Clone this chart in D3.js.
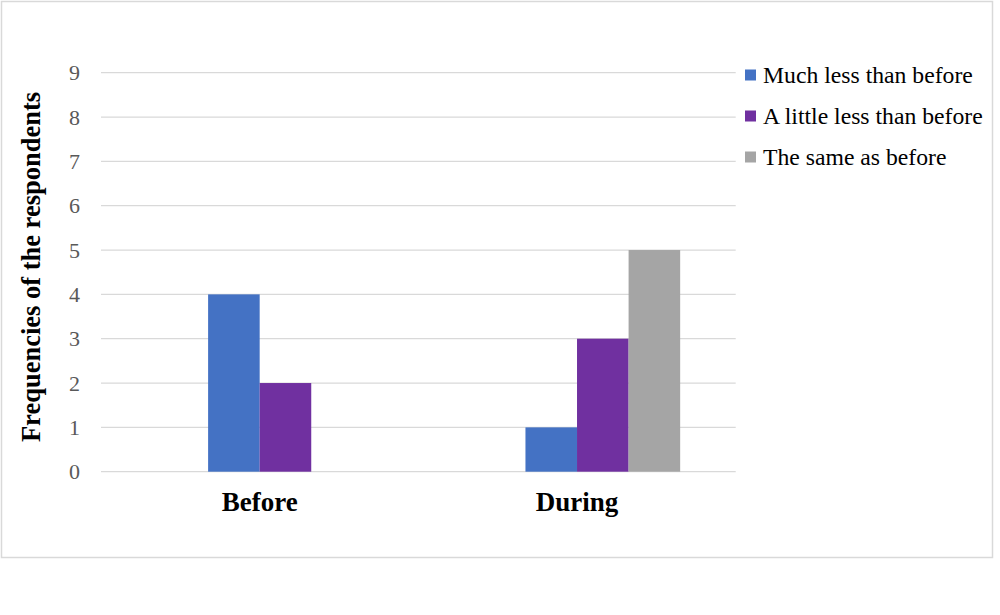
<!DOCTYPE html>
<html>
<head>
<meta charset="utf-8">
<script src="https://cdn.jsdelivr.net/npm/d3@7"></script>
<style>
  body { margin: 0; background: #fff; }
  text { font-family: "Liberation Serif", "Times New Roman", serif; }
</style>
</head>
<body>
<div id="viz"></div>
<script>
var categories = ["Before", "During"];
var seriesNames = ["Much less than before", "A little less than before", "The same as before"];
var muchLess = [4, 1];
var littleLess = [2, 3];
var same = [0, 5];
var yTicks = [0, 1, 2, 3, 4, 5, 6, 7, 8, 9];
var colors = ["#4472c4", "#7030a0", "#a5a5a5"];

var width = 1000,
    height = 615;

var svg = d3.select("#viz").append("svg")
    .attr("width", width)
    .attr("height", height);

// outer frame
svg.append("rect")
    .attr("x", 1.5).attr("y", 1.5)
    .attr("width", 991).attr("height", 556)
    .attr("fill", "#fff")
    .attr("stroke", "#d9d9d9")
    .attr("stroke-width", 1.5);

var plotLeft = 101, plotRight = 735.7, plotTop = 72.7, plotBottom = 471.7;

var y = d3.scaleLinear().domain([0, 9]).range([plotBottom, plotTop]);

var x0 = d3.scaleBand().domain(categories)
    .range([plotLeft, plotRight])
    .paddingInner(0.35)
    .paddingOuter(0.175);

// the original leaves an empty first slot in each group
var x1 = d3.scaleBand().domain(["_empty"].concat(seriesNames))
    .range([0, x0.bandwidth()]);

// gridlines
svg.append("g")
  .selectAll("line")
    .data(yTicks)
  .enter().append("line")
    .attr("x1", plotLeft).attr("x2", plotRight)
    .attr("y1", function(d) { return y(d); })
    .attr("y2", function(d) { return y(d); })
    .attr("stroke", "#d9d9d9")
    .attr("stroke-width", 1.3);

// y axis labels
var yAxis = svg.append("g")
    .attr("transform", "translate(" + plotLeft + ",0)")
    .call(d3.axisLeft(y).tickValues(yTicks).tickSize(0).tickPadding(21));
yAxis.select(".domain").remove();
yAxis.selectAll("text")
    .attr("fill", "#595959")
    .style("font-size", "22px")
    .style("font-family", "'Liberation Serif', serif");

var rows = categories.map(function(c, i) {
  return { cat: c, values: [muchLess[i], littleLess[i], same[i]] };
});

var groups = svg.append("g").selectAll("g")
    .data(rows)
  .enter().append("g")
    .attr("transform", function(d) { return "translate(" + x0(d.cat) + ",0)"; });

groups.selectAll("rect")
    .data(function(d) {
      return d.values.map(function(v, j) { return { key: seriesNames[j], value: v, j: j }; });
    })
  .enter().append("rect")
    .attr("x", function(d) { return x1(d.key); })
    .attr("width", x1.bandwidth())
    .attr("y", function(d) { return y(d.value); })
    .attr("height", function(d) { return plotBottom - y(d.value); })
    .attr("fill", function(d) { return colors[d.j]; });

// category labels
svg.append("g").selectAll("text")
    .data(categories)
  .enter().append("text")
    .attr("x", function(d) { return x0(d) + x0.bandwidth() / 2; })
    .attr("y", 511)
    .attr("text-anchor", "middle")
    .style("font-size", "27px")
    .style("font-weight", "bold")
    .text(function(d) { return d; });

// y title
svg.append("text")
    .attr("transform", "translate(40,267) rotate(-90)")
    .attr("text-anchor", "middle")
    .style("font-size", "26.5px")
    .style("font-weight", "bold")
    .text("Frequencies of the respondents");

// legend
var legend = svg.append("g").selectAll("g")
    .data(seriesNames)
  .enter().append("g")
    .attr("transform", function(d, i) { return "translate(745," + (75 + i * 41) + ")"; });

legend.append("rect")
    .attr("x", 0).attr("y", -5.5)
    .attr("width", 11).attr("height", 11)
    .attr("fill", function(d, i) { return colors[i]; });

legend.append("text")
    .attr("x", 18)
    .attr("dy", "0.35em")
    .style("font-size", "23.7px")
    .attr("fill", "#000")
    .text(function(d) { return d; });
</script>
</body>
</html>
